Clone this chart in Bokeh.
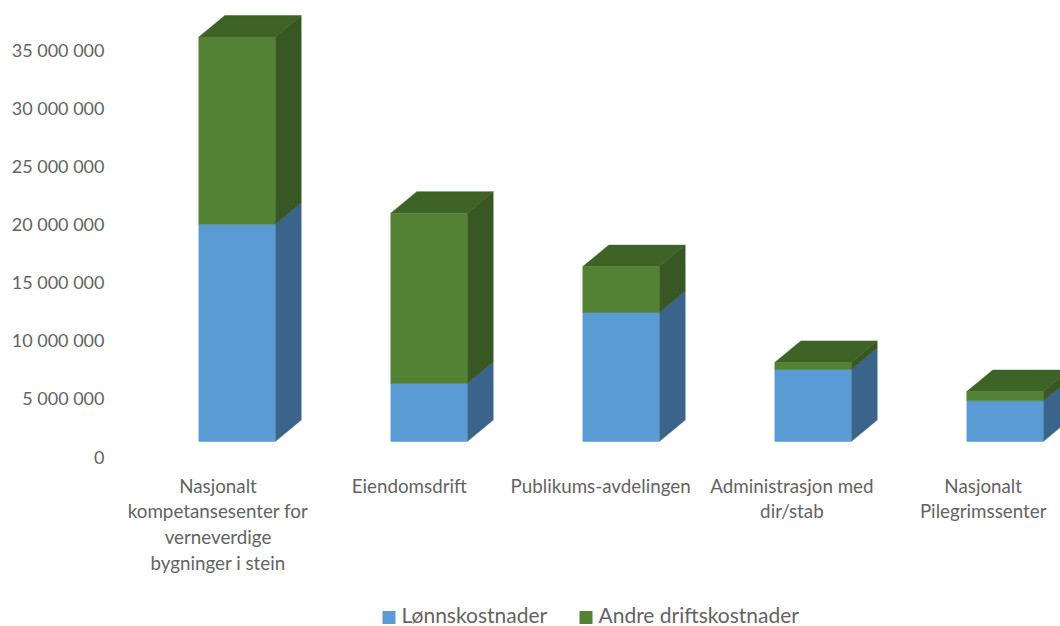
from bokeh.plotting import figure
from bokeh.models import ColumnDataSource, Range1d, FixedTicker
from bokeh.core.properties import value
from bokeh.embed import file_html
from bokeh.resources import INLINE

categories = [
    ["Nasjonalt", "kompetansesenter for", "verneverdige", "bygninger i stein"],
    ["Eiendomsdrift"],
    ["Publikums-avdelingen"],
    ["Administrasjon med", "dir/stab"],
    ["Nasjonalt", "Pilegrimssenter"],
]
lonn = [18700000, 5000000, 11100000, 6200000, 3500000]
andre = [16100000, 14650000, 3950000, 600000, 800000]
series_names = ["Lønnskostnader", "Andre driftskostnader"]
tick_values = [0, 5000000, 10000000, 15000000, 20000000, 25000000, 30000000, 35000000]
tick_labels = ["0", "5 000 000", "10 000 000", "15 000 000", "20 000 000", "25 000 000", "30 000 000", "35 000 000"]

W, H = 1060, 626
LEFT = 112
PX_PER_UNIT = 58.1 / 5000000
ZERO_PX = 456
FIRST_CENTER = 236.5
STEP = 192.0
FONT = "Lato"
GREY = "#636363"

y_top = ZERO_PX / PX_PER_UNIT
y_bot = y_top - H / PX_PER_UNIT
x_left = (LEFT - FIRST_CENTER) / STEP
x_right = x_left + (W - LEFT) / STEP

p = figure(width=W, height=H, output_backend="svg", toolbar_location=None,
           x_range=Range1d(x_left, x_right), y_range=Range1d(y_bot, y_top),
           min_border_left=LEFT, min_border_right=0, min_border_top=0, min_border_bottom=0,
           x_axis_location=None, y_axis_location="left")
p.outline_line_color = None
p.grid.visible = False
ax = p.yaxis[0]
ax.ticker = FixedTicker(ticks=tick_values)
ax.major_label_overrides = {v: l for v, l in zip(tick_values, tick_labels)}
ax.axis_line_color = None
ax.major_tick_line_color = None
ax.minor_tick_line_color = None
ax.major_label_text_font = FONT
ax.major_label_text_font_size = "18px"
ax.major_label_text_color = GREY
ax.major_label_standoff = 2

half = 38.2 / STEP
dx = 26 / STEP
dy = 21.5 / PX_PER_UNIT
lift = 15 / PX_PER_UNIT

front = {"xs": [], "ys": [], "c": []}
side = {"xs": [], "ys": [], "c": []}
top = {"xs": [], "ys": [], "c": []}
for i, (a, b) in enumerate(zip(lonn, andre)):
    l, r = i - half, i + half
    for lo, hi, cf, cs in [(0, a, "#5b9bd5", "#3a6489"), (a, a + b, "#548235", "#385723")]:
        y0, y1 = lo + lift, hi + lift
        front["xs"].append([l, r, r, l]); front["ys"].append([y0, y0, y1, y1]); front["c"].append(cf)
        side["xs"].append([r, r + dx, r + dx, r]); side["ys"].append([y0, y0 + dy, y1 + dy, y1]); side["c"].append(cs)
    y1 = a + b + lift
    top["xs"].append([l, r, r + dx, l + dx]); top["ys"].append([y1, y1, y1 + dy, y1 + dy]); top["c"].append("#3e6326")

for d in (side, top, front):
    p.patches("xs", "ys", fill_color="c", line_color="c", line_width=0.5, source=ColumnDataSource(d))

# category labels
line_h = 25.7 / PX_PER_UNIT
first_line = (ZERO_PX - 484.5) / PX_PER_UNIT
label_center_0 = (217.5 - FIRST_CENTER) / STEP
label_step = 191.3 / STEP
tx, ty, tt = [], [], []
for i, lines in enumerate(categories):
    for j, s in enumerate(lines):
        tx.append(label_center_0 + i * label_step); ty.append(first_line - j * line_h); tt.append(s)
p.text(tx, ty, text=tt, text_font=value(FONT), text_font_size="18.8px", text_color=GREY,
       text_align="center", text_baseline="middle")

# legend
leg_y = (ZERO_PX - 614) / PX_PER_UNIT
swatch_y = (ZERO_PX - 617) / PX_PER_UNIT
leg_x = [(382 - FIRST_CENTER) / STEP, (579 - FIRST_CENTER) / STEP]
p.rect(x=[v + 6.5 / STEP for v in leg_x], y=[swatch_y, swatch_y], width=13 / STEP, height=13 / PX_PER_UNIT,
       fill_color=["#5b9bd5", "#548235"], line_color=None)
p.text(x=[v + 19 / STEP for v in leg_x], y=[leg_y, leg_y], text=series_names, text_font=value(FONT),
       text_font_size="21px", text_color=GREY, text_align="left", text_baseline="middle")

open("out.html", "w").write(file_html(p, INLINE))
